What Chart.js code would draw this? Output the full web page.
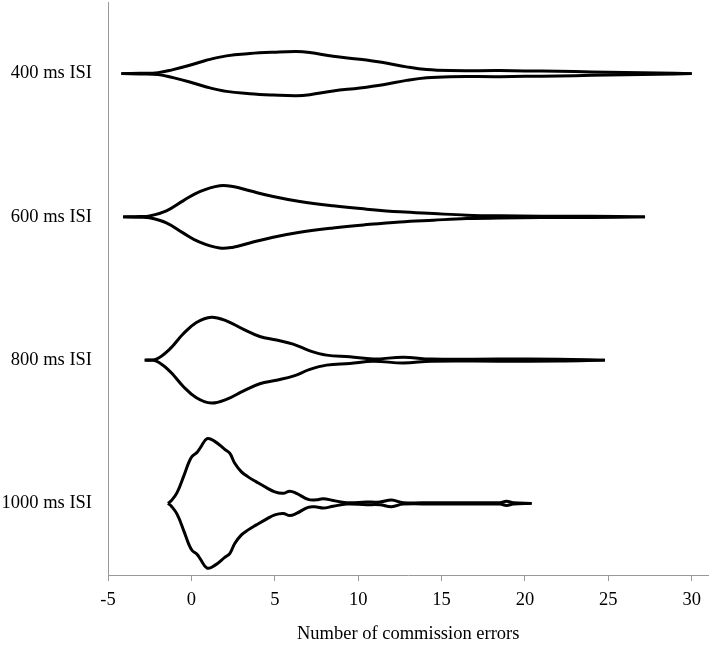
<!DOCTYPE html>
<html>
<head>
<meta charset="utf-8">
<script src="https://cdn.jsdelivr.net/npm/chart.js@4/dist/chart.umd.min.js"></script>
<style>
  html, body { margin: 0; padding: 0; background: #fff; }
  #wrap { width: 709px; height: 646px; }
</style>
</head>
<body>
<div id="wrap"><canvas id="chart"></canvas></div>
<script>
// categories, top to bottom
const categories = ['400 ms ISI', '600 ms ISI', '800 ms ISI', '1000 ms ISI']
const xTicks = [-5, 0, 5, 10, 15, 20, 25, 30]

// violin outlines: number of errors vs half-width (in category-band units)
const errors400 = [-4.2, -3.1, -2.0, -1.1, -0.1, 0.9, 2.1, 3.5, 4.9, 6.3, 7.1, 8.5, 10.1, 11.5, 12.9, 14.1, 15.5, 18.5, 20, 22, 24, 26, 28, 30]
const width400 = [0, 0.003, 0.007, 0.028, 0.058, 0.093, 0.124, 0.140, 0.149, 0.154, 0.147, 0.121, 0.100, 0.077, 0.047, 0.028, 0.021, 0.021, 0.019, 0.016, 0.012, 0.008, 0.005, 0]

const errors600 = [-4.1, -3.1, -2.5, -1.5, -0.5, 0.5, 1.7, 2.5, 3.5, 4.9, 6.5, 8.5, 10.5, 12.5, 14.5, 16.5, 18.5, 21, 24, 27.2]
const width600 = [0, 0.002, 0.007, 0.042, 0.112, 0.177, 0.218, 0.212, 0.182, 0.142, 0.107, 0.077, 0.054, 0.035, 0.023, 0.012, 0.007, 0.005, 0.004, 0]

const errors800 = [-2.8, -2.1, -1.3, -0.5, 0.3, 1.2, 2.1, 3.1, 4.1, 5.1, 6.1, 7.1, 8.1, 9.5, 10.9, 12.7, 14.4, 18.5, 22, 24.8]
const width800 = [0, 0.007, 0.077, 0.182, 0.263, 0.300, 0.274, 0.216, 0.165, 0.140, 0.112, 0.065, 0.035, 0.023, 0.008, 0.020, 0.007, 0.007, 0.006, 0]

const errors1000 = [-1.4, -1.2, -0.86, -0.46, -0.16, 0.04, 0.34, 0.54, 0.94, 1.4, 2.0, 2.3, 2.6, 3.0, 3.4, 3.9, 4.5, 5.0, 5.5, 5.9, 6.3, 7.0, 7.5, 7.9, 8.5, 9.3, 10.5, 11.3, 12.0, 12.7, 14.5, 18.5, 18.9, 19.3, 20.4]
const width1000 = [0, 0.02, 0.075, 0.19, 0.284, 0.328, 0.356, 0.389, 0.452, 0.433, 0.377, 0.35, 0.28, 0.22, 0.185, 0.15, 0.11, 0.08, 0.07, 0.085, 0.07, 0.028, 0.025, 0.033, 0.02, 0.005, 0.009, 0.01, 0.023, 0.005, 0.005, 0.005, 0.014, 0.005, 0]

const violins = [
  [errors400, width400],
  [errors600, width600],
  [errors800, width800],
  [errors1000, width1000]
]

const font = { family: '"Liberation Serif", "Times New Roman", serif', size: 18.5 }

function outline(xs, ws, row, sign) {
  return xs.map((x, i) => ({ x: x, y: row + sign * ws[i] }))
}

const datasets = []
violins.forEach(([xs, ws], row) => {
  [-1, 1].forEach(sign => {
    datasets.push({
      data: outline(xs, ws, row, sign),
      showLine: true,
      borderColor: '#000',
      borderWidth: 3,
      pointRadius: 0,
      tension: 0.4,
      fill: false
    })
  })
})

new Chart(document.getElementById('chart'), {
  type: 'scatter',
  data: { datasets: datasets },
  options: {
    responsive: true,
    maintainAspectRatio: false,
    animation: false,
    layout: { padding: { top: 2, right: 0, left: 0, bottom: 0 } },
    plugins: {
      legend: { display: false },
      tooltip: { enabled: false }
    },
    scales: {
      x: {
        type: 'linear',
        min: -5,
        max: 31,
        afterBuildTicks: (scale) => {
          scale.ticks = xTicks.map(v => ({ value: v }))
        },
        afterFit: (scale) => { scale.height = 71 },
        grid: {
          drawOnChartArea: false,
          drawTicks: true,
          tickLength: 6,
          color: '#999'
        },
        border: { color: '#999', width: 1 },
        ticks: { color: '#000', font: font, padding: 8, maxRotation: 0 },
        title: {
          display: true,
          text: 'Number of commission errors',
          color: '#000',
          font: font,
          padding: { top: 0, bottom: 1 }
        }
      },
      y: {
        type: 'linear',
        min: -0.5,
        max: 3.5,
        reverse: true,
        afterBuildTicks: (scale) => {
          scale.ticks = categories.map((c, i) => ({ value: i }))
        },
        afterFit: (scale) => {
          scale.width = 108
          // labels sit well inside the band, no end padding needed
          scale.paddingTop = 0
          scale.paddingBottom = 0
        },
        grid: { drawOnChartArea: false, drawTicks: false },
        border: { color: '#999', width: 1 },
        ticks: {
          color: '#000',
          font: font,
          padding: 16,
          callback: (v) => categories[v]
        }
      }
    }
  }
})
</script>
</body>
</html>
